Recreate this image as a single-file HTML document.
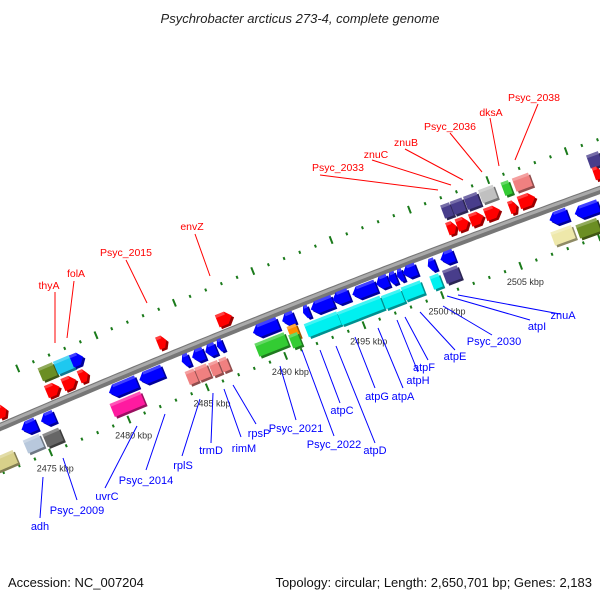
<!DOCTYPE html>
<html><head><meta charset="utf-8"><style>
html,body{margin:0;padding:0;background:#fff;}
svg{display:block;font-family:"Liberation Sans","DejaVu Sans",sans-serif;}
</style></head><body>
<svg id="map" width="600" height="600" viewBox="0 0 600 600" xmlns="http://www.w3.org/2000/svg">
<rect width="600" height="600" fill="#fff"/>
<text x="300" y="23" text-anchor="middle" font-size="13" font-style="italic" fill="#222">Psychrobacter arcticus 273-4, complete genome</text>
<text x="8" y="587" font-size="13" fill="#111">Accession: NC_007204</text>
<text x="592" y="587" text-anchor="end" font-size="13" fill="#111">Topology: circular; Length: 2,650,701 bp; Genes: 2,183</text>
<g id="tracks"></g><g id="band"></g><g id="genes"></g><g id="leaders"></g><g id="labels"></g>
</svg>
<script>
// ---- data ----
const geneKbp   = [2471.3,2471.5,2473.0,2474.2,2473.3,2474.55,2474.2,2475.25,2476.1,2474.55,2475.6,2476.5,2481.5,2479.0,2480.8,2479.3,2483.0,2483.8,2484.6,2485.2,2483.4,2484.1,2484.9,2485.5,2485.5,2488.1,2489.55,2488.5,2489.9,2490.0,2490.7,2491.7,2492.9,2491.0,2492.0,2493.4,2494.7,2496.25,2497.5,2494.4,2495.55,2496.2,2496.7,2497.3,2498.7,2499.7,2499.0,2500.0,2499.7,2500.4,2501.3,2502.3,2503.5,2504.5,2500.0,2500.7,2501.6,2502.6,2503.9,2504.8,2506.8,2508.6,2507.1,2508.7,2509.1,2509.3];
const geneLen   = [0.6,1.4,1.0,0.9,1.1,1.1,1.0,1.15,0.8,0.9,0.9,0.6,0.6,1.9,1.6,2.1,0.5,0.8,0.7,0.4,0.6,0.8,0.6,0.5,1.0,1.7,0.8,2.0,0.6,0.6,0.4,1.5,1.1,0.6,1.7,1.2,1.8,1.3,1.3,1.6,0.8,0.5,0.4,0.9,0.5,0.9,0.6,1.0,0.6,0.8,0.9,1.0,0.5,1.1,0.6,0.8,0.9,1.0,0.5,1.1,1.2,1.6,1.4,1.4,0.8,0.5];
const geneLane  = [-15,36,12,12,31,33,-35,-35,-35,-15,-15,-16,-17,12,12,31,11,11,11,10,30,30,31,31,-15,11,11,30,26,35,11,10.5,10,30,30,31,31,32,31,12,11,11,11,10.5,12.5,11,31,30,-36,-36,-36,-37,-36,-36,-17,-17,-17,-17,-15,-16.5,12,15,32,34,-32,-18];
const geneColor = ["#ff0000","#d8d08a","#0000ff","#0000ff","#b8c8dc","#666666","#6b8e23","#1ec8f0","#0000ff","#ff0000","#ff0000","#ff0000","#ff0000","#0000ff","#0000ff","#ff1aa0","#0000ff","#0000ff","#0000ff","#0000ff","#f08080","#f08080","#f08080","#f08080","#ff0000","#0000ff","#0000ff","#33cc33","#ff8c00","#33cc33","#0000ff","#0000ff","#0000ff","#00f0f0","#00f0f0","#00f0f0","#00f0f0","#00f0f0","#00f0f0","#0000ff","#0000ff","#0000ff","#0000ff","#0000ff","#0000ff","#0000ff","#00f0f0","#483d8b","#483d8b","#483d8b","#483d8b","#c0c0c0","#33cc33","#f08080","#ff0000","#ff0000","#ff0000","#ff0000","#ff0000","#ff0000","#0000ff","#0000ff","#eee8aa","#6b8e23","#483d8b","#ff0000"];
const geneShape = ["a","r","l","l","r","r","r","r","a","a","a","a","a","l","l","r","l","l","l","l","r","r","r","r","a","l","l","r","r","r","l","l","l","r","r","r","r","r","r","l","l","l","l","l","l","l","r","r","r","r","r","r","r","r","a","a","a","a","a","a","l","l","r","r","r","a"];
const tickKbp = [2470,2471,2472,2473,2474,2475,2476,2477,2478,2479,2480,2481,2482,2483,2484,2485,2486,2487,2488,2489,2490,2491,2492,2493,2494,2495,2496,2497,2498,2499,2500,2501,2502,2503,2504,2505,2506,2507,2508,2509,2510];
const kbpLabels = [2475,2480,2485,2490,2495,2500,2505];
const labelText  = ["thyA","folA","Psyc_2015","envZ","Psyc_2033","znuC","znuB","Psyc_2036","dksA","Psyc_2038","adh","Psyc_2009","uvrC","Psyc_2014","rplS","trmD","rimM","rpsP","Psyc_2021","Psyc_2022","atpC","atpD","atpG","atpA","atpH","atpF","atpE","Psyc_2030","atpI","znuA"];

// ---- geometry (layout, not data) ----
const labelPos = [[49,289],[76,277],[126,256],[192,230],[338,171],[376,158],[406,146],[450,130],[491,116],[534,101],[40,530],[77,514],[107,500],[146,484],[183,469],[211,454],[244,452],[259,437],[296,432],[334,448],[342,414],[375,454],[377,400],[403,400],[418,384],[424,371],[455,360],[494,345],[537,330],[563,319]];
const leaderEnd = [[[55,292],[55,343]],[[74,281],[67,338]],[[126,260],[147,303]],[[195,234],[210,276]],[[320,175],[438,190]],[[372,160],[451,185]],[[405,149],[463,180]],[[450,133],[482,172]],[[490,118],[499,166]],[[538,104],[515,160]],[[40,518],[43,477]],[[77,500],[63,458]],[[105,488],[137,426]],[[146,470],[165,414]],[[182,456],[200,399]],[[211,443],[213,393]],[[241,437],[224,389]],[[256,424],[233,385]],[[296,420],[280,366]],[[334,436],[302,350]],[[340,403],[320,350]],[[375,443],[336,346]],[[375,388],[355,337]],[[403,388],[378,328]],[[418,372],[397,320]],[[428,360],[405,317]],[[455,350],[420,312]],[[492,335],[443,306]],[[530,320],[447,296]],[[560,314],[458,295]]];

const NS="http://www.w3.org/2000/svg";
const PX=15.67;
function xOf(k){return 60+(k-2475)*PX;}
function band(x){return 427-0.43*x+5.8e-5*x*x;}
function ang(x){return Math.atan(-0.43+1.16e-4*x)*180/Math.PI;}
function mk(tag,attrs,parent){const e=document.createElementNS(NS,tag);for(const k in attrs)e.setAttribute(k,attrs[k]);parent.appendChild(e);return e;}
function shade(c,f){const n=parseInt(c.slice(1),16);let r=n>>16,g=(n>>8)&255,b=n&255;r=Math.round(r*f);g=Math.round(g*f);b=Math.round(b*f);return "rgb("+r+","+g+","+b+")";}

// band
const bg=document.getElementById('band');
let d="";for(let x=-10;x<=610;x+=5){d+=(x===-10?"M":"L")+x+","+band(x).toFixed(1)+" ";}
let p=mk('path',{d:d,fill:"none",stroke:"#777",'stroke-width':8},bg);


p=mk('path',{d:d,fill:"none",stroke:"#aaa",'stroke-width':3,transform:"translate(0,-1.5)"},bg);



// tick tracks
const tg=document.getElementById('tracks');
function tickAt(k,lane,major){const x=xOf(k),y=band(x)+lane,a=ang(x);
 const t=mk('rect',{x:-1,y:major?-4:-1.5,width:2,height:major?8:3,fill:"#1a7a1a",transform:`translate(${x},${y}) rotate(${a})`},tg);
 
 }
tickKbp.forEach(k=>{tickAt(k+2.3,-51,k%5===0);tickAt(k-0.6,47,k%5===0);});
kbpLabels.forEach(k=>{const x=xOf(k-0.3),y=band(x)+68;
 const t=mk('text',{x:x,y:y,'font-size':9,'text-anchor':'middle',fill:"#333"},tg);t.textContent=k+" kbp";
 
 });

// genes
const gg=document.getElementById('genes');
geneKbp.forEach((k,i)=>{const x=xOf(k),y=band(x)+geneLane[i],a=ang(x);
 const w=geneLen[i]*PX,h=(geneShape[i]==="r")?14:13,c=geneColor[i];
 const g=mk('g',{transform:`translate(${x.toFixed(1)},${y.toFixed(1)}) rotate(${a.toFixed(1)})`},gg);
 
 
 const hw=w/2,hh=h/2,tip=Math.min(w*0.4,6);let pts;
 if(geneShape[i]==="r")pts=[[-hw,-hh],[hw,-hh],[hw,hh],[-hw,hh]];
 else if(geneShape[i]==="a")pts=[[-hw,-hh],[hw-tip,-hh],[hw,0],[hw-tip,hh],[-hw,hh]];
 else pts=[[-hw,0],[-hw+tip,-hh],[hw,-hh],[hw,hh],[-hw+tip,hh]];
 const s=pts.map(q=>q.join(",")).join(" ");
 mk('polygon',{points:s,fill:shade(c,0.6),transform:"translate(1.5,2.5)"},g);
 mk('polygon',{points:s,fill:c},g);
 mk('rect',{x:-hw+(geneShape[i]==="l"?tip:0),y:-hh,width:Math.max(0,w-tip*(geneShape[i]==="r"?0:1)),height:3,fill:"#fff",opacity:0.25},g);
});

// labels
const lg=document.getElementById('labels'),ld=document.getElementById('leaders');
labelText.forEach((t,i)=>{const col=i<10?"#ff0000":"#0000ff";
 const e=leaderEnd[i];
 const l=mk('line',{x1:e[0][0],y1:e[0][1],x2:e[1][0],y2:e[1][1],stroke:col,'stroke-width':1},ld);
 
 
 const tx=mk('text',{x:labelPos[i][0],y:labelPos[i][1],'text-anchor':'middle','font-size':i<10?10.5:11,fill:col},lg);
 tx.textContent=t;
 
 
});
</script>
</body></html>
